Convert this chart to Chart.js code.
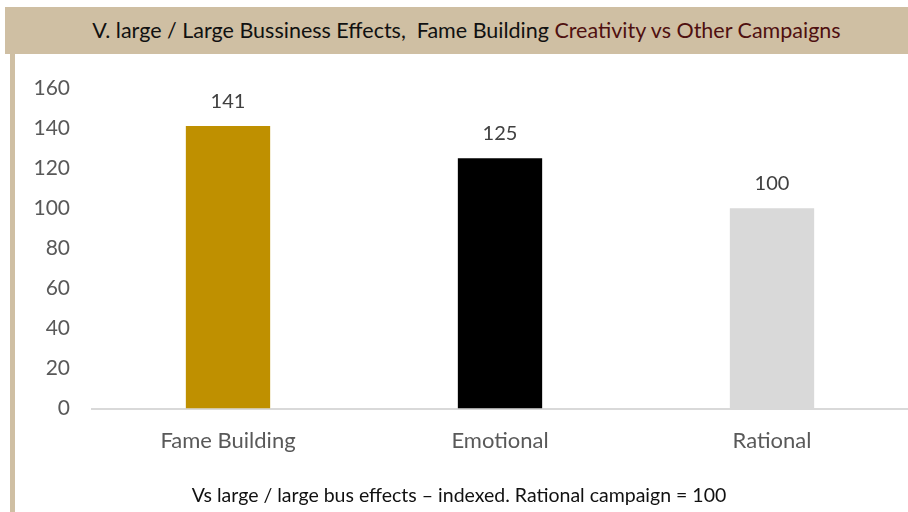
<!DOCTYPE html>
<html>
  <head>
    <title>Fame Building Creativity</title>
    <script src="https://cdn.jsdelivr.net/npm/chart.js"></script>
    <style>
      body {
        margin: 0;
        width: 908px;
        height: 512px;
        position: relative;
        overflow: hidden;
        background: #fff;
        font-family: Lato, "Open Sans", sans-serif;
      }

      .banner {
        position: absolute;
        left: 5px;
        top: 7px;
        width: 883px;
        padding-left: 20px;
        height: 47px;
        background: #cfbfa3;
        text-align: center;
        line-height: 47px;
        font-size: 21.5px;
        color: #111;
      }

      .banner span {
        color: #4f1010;
      }

      .stripe {
        position: absolute;
        left: 10px;
        top: 54px;
        width: 5px;
        height: 458px;
        background: #cfbfa3;
      }

      .footer {
        position: absolute;
        left: 10px;
        right: 0;
        top: 483px;
        text-align: center;
        font-size: 19.5px;
        color: #111;
      }

      .chart-wrapper {
        position: absolute;
        left: 0;
        top: 0;
        width: 908px;
        height: 512px;
      }
    </style>
  </head>
  <body>
    <div class="chart-wrapper">
      <canvas id="fameChart"></canvas>
    </div>
    <div class="banner">V. large / Large Bussiness Effects,&nbsp; Fame Building <span>Creativity vs Other Campaigns</span></div>
    <div class="stripe"></div>
    <div class="footer">Vs large / large bus effects &ndash; indexed. Rational campaign = 100</div>

    <script>
      var categories = ["Fame Building", "Emotional", "Rational"];
      var indexValues = [141, 125, 100];
      var barColors = ["#bf9000", "#000000", "#d9d9d9"];

      // value labels above each bar
      const valueLabels = {
        id: "valueLabels",
        afterDatasetsDraw(chart) {
          const ctx = chart.ctx;
          const meta = chart.getDatasetMeta(0);
          ctx.save();
          ctx.font = "20px Lato, 'Open Sans', sans-serif";
          ctx.fillStyle = "#404040";
          ctx.textAlign = "center";
          ctx.textBaseline = "middle";
          meta.data.forEach((bar, i) => {
            ctx.fillText(indexValues[i], bar.x, bar.y - 25);
          });
          ctx.restore();
        },
      };

      new Chart(document.getElementById("fameChart"), {
        type: "bar",
        data: {
          labels: categories,
          datasets: [
            {
              data: indexValues,
              backgroundColor: barColors,
              borderWidth: 0,
              barPercentage: 0.62,
              categoryPercentage: 0.5,
            },
          ],
        },
        options: {
          responsive: true,
          maintainAspectRatio: false,
          animation: false,
          layout: {
            padding: { top: 88, right: 0, bottom: 39, left: 0 },
          },
          plugins: {
            legend: { display: false },
            tooltip: { enabled: false },
          },
          scales: {
            x: {
              grid: { display: false, drawTicks: false },
              border: { color: "#d9d9d9", width: 2 },
              ticks: {
                padding: 19,
                color: "#595959",
                font: { size: 22, family: "Lato, 'Open Sans', sans-serif" },
              },
            },
            y: {
              min: 0,
              max: 160,
              afterFit: (scale) => {
                scale.width = 92;
              },
              grid: { display: false, drawTicks: false },
              border: { display: false },
              ticks: {
                stepSize: 20,
                padding: 22,
                color: "#595959",
                font: { size: 21, family: "Lato, 'Open Sans', sans-serif" },
              },
            },
          },
        },
        plugins: [valueLabels],
      });
    </script>
  </body>
</html>
